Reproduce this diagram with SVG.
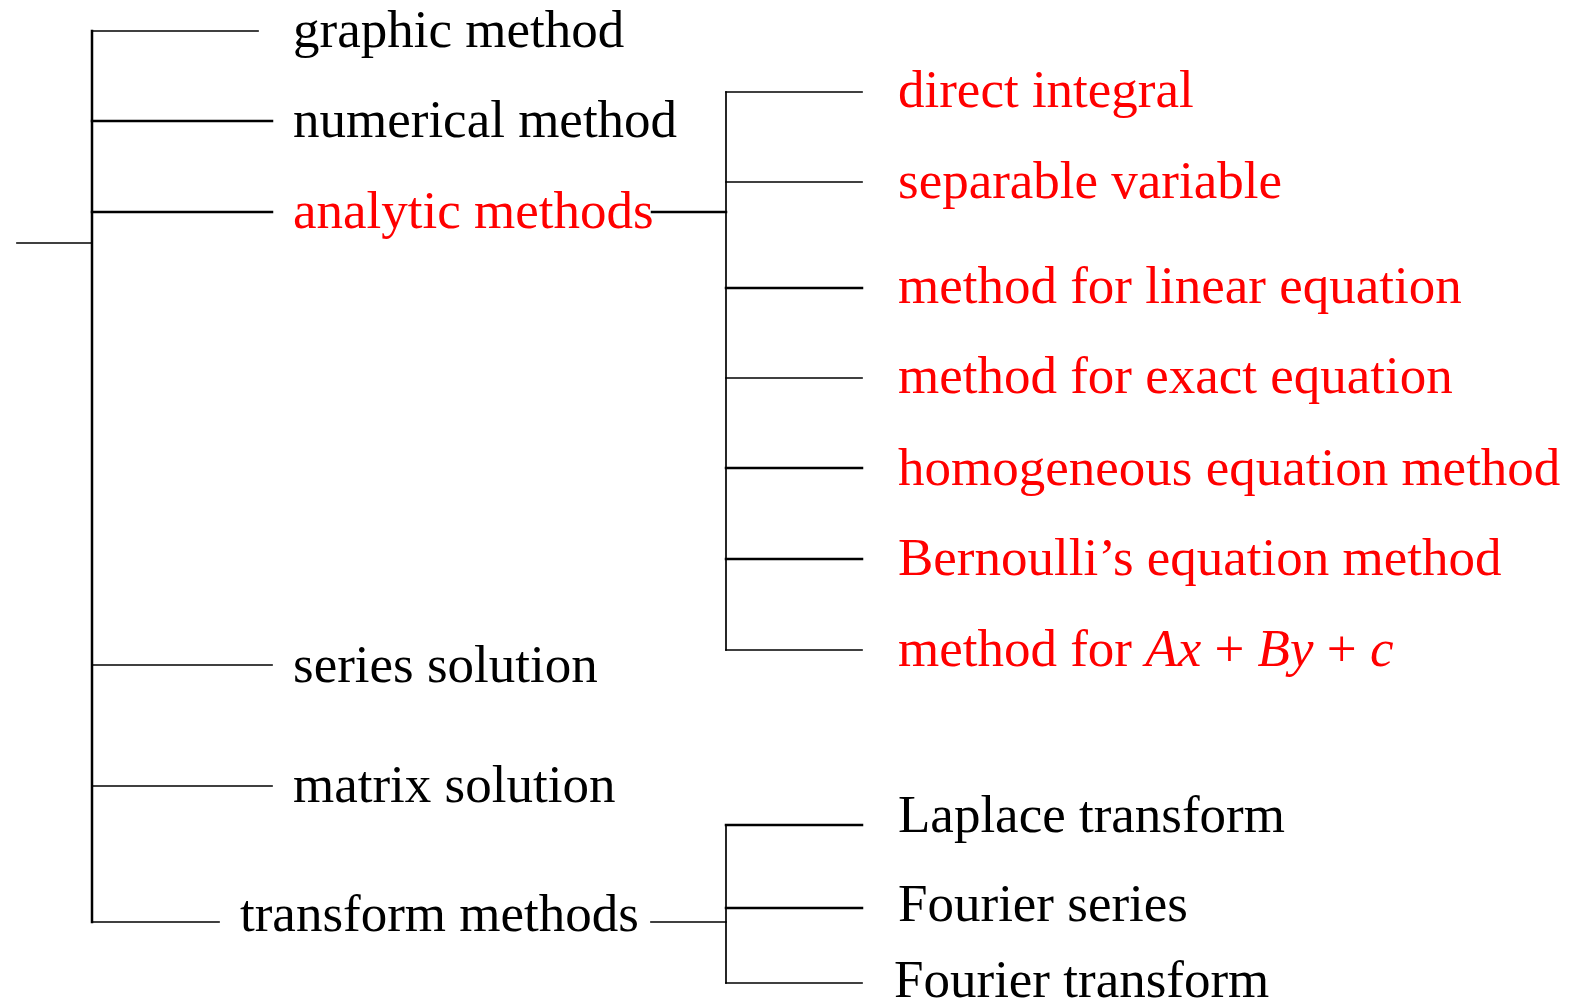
<svg xmlns="http://www.w3.org/2000/svg" width="1569" height="1001" viewBox="0 0 1569 1001">
<style>
.t{font-family:"Liberation Serif","Times New Roman",serif;font-size:53px;fill:#000}
.r{fill:#ff0000}
.i{font-style:italic}
.c{stroke:#000;fill:none;stroke-linecap:square}
.thin{stroke-width:1.7}
.thick{stroke-width:2.5}
</style>
<rect width="1569" height="1001" fill="#fff"/>
<g id="connectors">
<path class="c thin" d="M17 243H92"/>
<path class="c thick" d="M92 31V922"/>
<path class="c thin" d="M92 31H258"/>
<path class="c thick" d="M92 121H272"/>
<path class="c thick" d="M92 212H272"/>
<path class="c thin" d="M92 665H272"/>
<path class="c thin" d="M92 786H272"/>
<path class="c thin" d="M92 922H219"/>
<path class="c thick" d="M652 212H726"/>
<path class="c thin" d="M726 92V650"/>
<path class="c thin" d="M726 92H862"/>
<path class="c thin" d="M726 182H862"/>
<path class="c thick" d="M726 288H862"/>
<path class="c thin" d="M726 378H862"/>
<path class="c thick" d="M726 468H862"/>
<path class="c thick" d="M726 559H862"/>
<path class="c thin" d="M726 650H862"/>
<path class="c thin" d="M651 922H726"/>
<path class="c thin" d="M726 825V983"/>
<path class="c thick" d="M726 825H862"/>
<path class="c thick" d="M726 908H862"/>
<path class="c thin" d="M726 983H862"/>
</g>
<g id="graphic"><text class="t" x="293" y="47">graphic method</text></g>
<g id="numerical"><text class="t" x="293" y="137">numerical method</text></g>
<g id="analytic"><text class="t r" x="293" y="228">analytic methods</text></g>
<g id="series"><text class="t" x="293" y="682">series solution</text></g>
<g id="matrix"><text class="t" x="293" y="802">matrix solution</text></g>
<g id="transform"><text class="t" x="240" y="931">transform methods</text></g>
<g id="direct"><text class="t r" x="898" y="107">direct integral</text></g>
<g id="separable"><text class="t r" x="898" y="198">separable variable</text></g>
<g id="linear"><text class="t r" x="898" y="303">method for linear equation</text></g>
<g id="exact"><text class="t r" x="898" y="393">method for exact equation</text></g>
<g id="homogeneous"><text class="t r" x="898" y="485">homogeneous equation method</text></g>
<g id="bernoulli"><text class="t r" x="898" y="575">Bernoulli’s equation method</text></g>
<g id="axbyc"><text class="t r" x="898" y="666">method for <tspan class="i">Ax</tspan> + <tspan class="i">By</tspan> + <tspan class="i">c</tspan></text></g>
<g id="laplace"><text class="t" x="898" y="832">Laplace transform</text></g>
<g id="fseries"><text class="t" x="898" y="921">Fourier series</text></g>
<g id="ftransform"><text class="t" x="894" y="997">Fourier transform</text></g>
</svg>
